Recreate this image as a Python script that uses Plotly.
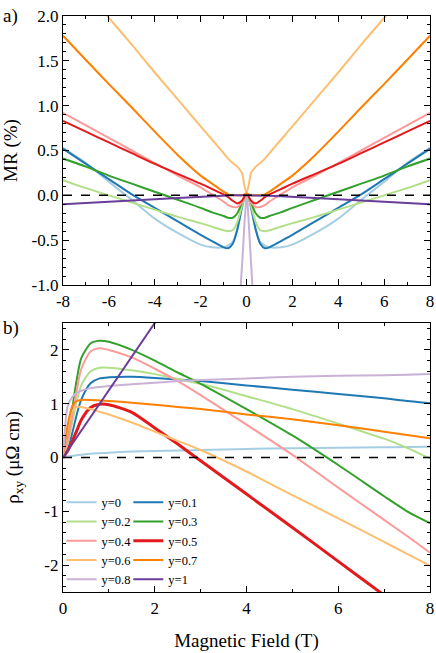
import plotly.graph_objects as go

# ---- panel a) magnetoresistance MR(%) vs field (T) ----
mr_field = [-8, -7, -6, -5, -4, -3, -2, -1.5, -1, -0.8, -0.6, -0.4, -0.2, -0.1, 0,
            0.1, 0.2, 0.4, 0.6, 0.8, 1, 1.5, 2, 3, 4, 5, 6, 7, 8]
mr_y0 = [0.53, 0.36, 0.15, -0.05, -0.26, -0.42, -0.55, -0.58, -0.58, -0.56, -0.52, -0.38, -0.15, -0.05, 0,
         -0.05, -0.15, -0.38, -0.52, -0.56, -0.58, -0.58, -0.55, -0.42, -0.26, -0.05, 0.15, 0.36, 0.53]
mr_y01 = [0.52, 0.35, 0.18, 0.01, -0.14, -0.29, -0.44, -0.51, -0.58, -0.59, -0.54, -0.38, -0.13, -0.03, 0,
          -0.03, -0.13, -0.38, -0.54, -0.59, -0.58, -0.51, -0.44, -0.29, -0.14, 0.01, 0.18, 0.35, 0.52]
mr_y02 = [0.17, 0.08, 0.0, -0.08, -0.16, -0.24, -0.31, -0.35, -0.39, -0.40, -0.39, -0.30, -0.12, -0.04, 0,
          -0.04, -0.12, -0.30, -0.39, -0.40, -0.39, -0.35, -0.31, -0.24, -0.16, -0.08, 0.0, 0.08, 0.17]
mr_y03 = [0.41, 0.32, 0.22, 0.13, 0.04, -0.05, -0.14, -0.19, -0.23, -0.25, -0.25, -0.20, -0.08, -0.02, 0,
          -0.02, -0.08, -0.20, -0.25, -0.25, -0.23, -0.19, -0.14, -0.05, 0.04, 0.13, 0.22, 0.32, 0.41]
mr_y04 = [0.92, 0.78, 0.64, 0.50, 0.36, 0.22, 0.09, 0.01, -0.07, -0.11, -0.13, -0.13, -0.08, -0.03, 0,
          -0.03, -0.08, -0.13, -0.13, -0.11, -0.07, 0.01, 0.09, 0.22, 0.36, 0.50, 0.64, 0.78, 0.92]
mr_y05 = [0.83, 0.71, 0.59, 0.47, 0.35, 0.24, 0.13, 0.07, 0.01, -0.02, -0.06, -0.09, -0.06, -0.02, 0,
          -0.02, -0.06, -0.09, -0.06, -0.02, 0.01, 0.07, 0.13, 0.24, 0.35, 0.47, 0.59, 0.71, 0.83]
mr_y06 = [2.58, 2.28, 1.98, 1.68, 1.37, 1.07, 0.77, 0.62, 0.47, 0.41, 0.36, 0.32, 0.25, 0.12, 0.02,
          0.12, 0.25, 0.32, 0.36, 0.41, 0.47, 0.62, 0.77, 1.07, 1.37, 1.68, 1.98, 2.28, 2.58]
mr_y07 = [1.78, 1.51, 1.24, 0.98, 0.71, 0.45, 0.22, 0.13, 0.04, 0.01, 0.0, 0.0, 0.0, 0.01, 0.02,
          0.01, 0.0, 0.0, 0.0, 0.01, 0.04, 0.13, 0.22, 0.45, 0.71, 0.98, 1.24, 1.51, 1.78]
mr_y1 = [-0.1, -0.088, -0.075, -0.06, -0.045, -0.03, -0.015, -0.01, -0.005, -0.005, 0, 0, 0, 0, 0,
         0, 0, 0, 0, -0.005, -0.005, -0.01, -0.015, -0.03, -0.045, -0.06, -0.075, -0.088, -0.1]
mr_y08_field = [-0.3, -0.25, -0.2, -0.15, -0.1, -0.05, 0, 0.05, 0.1, 0.15, 0.2, 0.25, 0.3]
mr_y08 = [-1.2, -1.02, -0.82, -0.6, -0.35, -0.1, 0, -0.1, -0.35, -0.6, -0.82, -1.02, -1.2]

# ---- panel b) Hall resistivity rho_xy vs field (T) ----
rho_field = [0, 0.1, 0.2, 0.3, 0.4, 0.6, 0.8, 1, 1.5, 2, 2.5, 3, 4, 5, 6, 7, 7.5, 8]
rho_y0 = [0, 0.02, 0.03, 0.04, 0.05, 0.07, 0.08, 0.09, 0.11, 0.12, 0.13, 0.14, 0.16, 0.17, 0.18, 0.19, 0.195, 0.2]
rho_y01 = [0, 0.15, 0.45, 0.8, 1.08, 1.38, 1.47, 1.49, 1.5, 1.48, 1.45, 1.42, 1.34, 1.26, 1.18, 1.1, 1.05, 1.01]
rho_y02 = [0, 0.25, 0.65, 1.05, 1.35, 1.6, 1.67, 1.67, 1.62, 1.55, 1.46, 1.37, 1.14, 0.9, 0.63, 0.35, 0.18, -0.02]
rho_y03 = [0, 0.35, 0.9, 1.45, 1.85, 2.12, 2.17, 2.15, 2.0, 1.8, 1.58, 1.37, 0.9, 0.41, -0.14, -0.72, -1.0, -1.22]
rho_y04 = [0, 0.3, 0.75, 1.25, 1.65, 1.97, 2.03, 2.0, 1.86, 1.65, 1.42, 1.16, 0.61, 0.05, -0.56, -1.16, -1.46, -1.77]
rho_y05 = [0, 0.12, 0.3, 0.5, 0.7, 0.93, 0.99, 0.98, 0.84, 0.55, 0.25, -0.06, -0.68, -1.3, -1.93, -2.56, -2.88, -3.2]
rho_y06 = [0, 0.5, 0.85, 0.94, 0.94, 0.9, 0.85, 0.8, 0.65, 0.48, 0.31, 0.14, -0.26, -0.7, -1.13, -1.57, -1.79, -2.01]
rho_y07 = [0, 0.6, 0.95, 1.05, 1.07, 1.07, 1.06, 1.05, 1.02, 0.98, 0.94, 0.9, 0.8, 0.71, 0.6, 0.48, 0.42, 0.36]
rho_y08 = [0, 0.95, 1.12, 1.2, 1.24, 1.29, 1.31, 1.33, 1.36, 1.39, 1.42, 1.44, 1.47, 1.5, 1.52, 1.53, 1.54, 1.55]
rho_y1_field = [0, 1, 2, 2.4]
rho_y1 = [0, 1.25, 2.5, 3.0]

labels = ['y=0', 'y=0.1', 'y=0.2', 'y=0.3', 'y=0.4', 'y=0.5', 'y=0.6', 'y=0.7', 'y=0.8', 'y=1']
colors = ['#a6cee3', '#1f78b4', '#b2df8a', '#33a02c', '#fb9a99',
          '#e31a1c', '#fdbf6f', '#ff7f00', '#cab2d6', '#6a3d9a']

# tick labels
mr_xticks = [-8, -6, -4, -2, 0, 2, 4, 6, 8]
mr_xtext = ['-8', '-6', '-4', '-2', '0', '2', '4', '6', '8']
mr_yticks = [-1.0, -0.5, 0.0, 0.5, 1.0, 1.5, 2.0]
mr_ytext = ['-1.0', '-0.5', '0.0', '0.5', '1.0', '1.5', '2.0']
rho_xticks = [0, 2, 4, 6, 8]
rho_xtext = ['0', '2', '4', '6', '8']
rho_yticks = [-2, -1, 0, 1, 2]
rho_ytext = ['-2', '-1', '0', '1', '2']

FONT = 'Times New Roman, Liberation Serif, serif'

mr_series = [(mr_field, mr_y0), (mr_field, mr_y01), (mr_field, mr_y02), (mr_field, mr_y03),
             (mr_field, mr_y04), (mr_field, mr_y05), (mr_field, mr_y06), (mr_field, mr_y07),
             (mr_y08_field, mr_y08), (mr_field, mr_y1)]
rho_series = [(rho_field, rho_y0), (rho_field, rho_y01), (rho_field, rho_y02), (rho_field, rho_y03),
              (rho_field, rho_y04), (rho_field, rho_y05), (rho_field, rho_y06), (rho_field, rho_y07),
              (rho_field, rho_y08), (rho_y1_field, rho_y1)]

fig = go.Figure()

# top panel traces
for i, (bx, by) in enumerate(mr_series):
    shape = 'linear' if i in (8, 9) else 'spline'
    fig.add_trace(go.Scatter(x=bx, y=by, mode='lines', xaxis='x', yaxis='y',
                             line=dict(color=colors[i], width=2, shape=shape, smoothing=0.7),
                             showlegend=False))

# bottom panel traces, legend split in two columns
for i, (bx, by) in enumerate(rho_series):
    shape = 'linear' if i == 9 else 'spline'
    fig.add_trace(go.Scatter(x=bx, y=by, mode='lines', xaxis='x2', yaxis='y2',
                             name=labels[i], legend='legend' if i % 2 == 0 else 'legend2',
                             line=dict(color=colors[i], width=3 if i == 5 else 2,
                                       shape=shape, smoothing=0.7)))


def axis_style(tickvals, ticktext, minor_dtick, rng):
    return dict(range=rng, tickmode='array', tickvals=tickvals, ticktext=ticktext,
                ticks='inside', ticklen=6, tickwidth=1, tickcolor='black',
                minor=dict(tickmode='linear', tick0=0, dtick=minor_dtick, ticks='inside',
                           ticklen=3, tickwidth=1, tickcolor='black'),
                showline=True, linecolor='black', linewidth=1.3, mirror='ticks',
                showgrid=False, zeroline=False, automargin=False,
                tickfont=dict(family=FONT, size=17))


layout_x = axis_style(mr_xticks, mr_xtext, 1, [-8, 8])
layout_y = axis_style(mr_yticks, mr_ytext, 0.1, [-1, 2])
layout_x2 = axis_style(rho_xticks, rho_xtext, 1, [0, 8])
layout_y2 = axis_style(rho_yticks, rho_ytext, 0.2, [-2.5, 2.5])

fig.update_layout(
    width=436, height=653,
    margin=dict(l=63, r=6, t=16, b=61),
    paper_bgcolor='white', plot_bgcolor='white',
    font=dict(family=FONT, size=17, color='black'),
    xaxis=dict(layout_x, domain=[0, 1], anchor='y'),
    yaxis=dict(layout_y, domain=[0.533, 1], anchor='x',
               title=dict(text='MR (%)', font=dict(family=FONT, size=19), standoff=8)),
    xaxis2=dict(layout_x2, domain=[0, 1], anchor='y2',
                title=dict(text='Magnetic Field (T)', font=dict(family=FONT, size=19), standoff=17)),
    yaxis2=dict(layout_y2, domain=[0, 0.467], anchor='x2',
                title=dict(text='ρ<sub>xy</sub> (μΩ cm)', font=dict(family=FONT, size=19), standoff=19)),
    legend=dict(x=-0.004, y=0.181, xanchor='left', yanchor='top', bgcolor='rgba(0,0,0,0)',
                font=dict(family=FONT, size=12.5), tracegroupgap=0, itemwidth=30),
    legend2=dict(x=0.178, y=0.181, xanchor='left', yanchor='top', bgcolor='rgba(0,0,0,0)',
                 font=dict(family=FONT, size=12.5), tracegroupgap=0, itemwidth=30),
    shapes=[
        dict(type='line', xref='x domain', yref='y', x0=0, x1=1, y0=0, y1=0,
             line=dict(color='black', width=1.5, dash='dash')),
        dict(type='line', xref='x2 domain', yref='y2', x0=0, x1=1, y0=0, y1=0,
             line=dict(color='black', width=1.5, dash='dash')),
    ],
    annotations=[
        dict(text='a)', xref='paper', yref='paper', x=-0.17, y=1.0, xanchor='left',
             yanchor='middle', showarrow=False, font=dict(family=FONT, size=19)),
        dict(text='b)', xref='paper', yref='paper', x=-0.17, y=0.458, xanchor='left',
             yanchor='middle', showarrow=False, font=dict(family=FONT, size=19)),
    ],
)

# the page has a default body margin; remove it so the figure sits at the window origin
fig.write_html("out.html", config={'displayModeBar': False},
               post_script="document.body.style.margin='0px';")
